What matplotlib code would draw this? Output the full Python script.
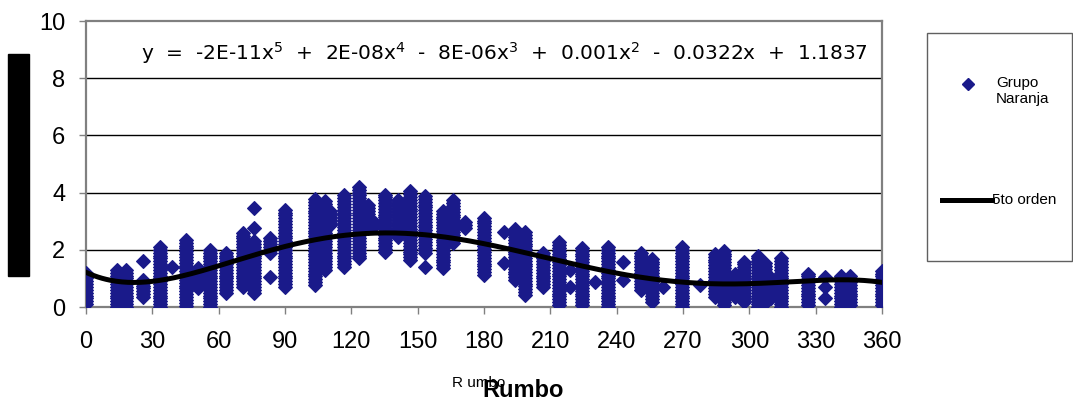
import numpy as np
import matplotlib
matplotlib.use("Agg")
import matplotlib.pyplot as plt
from matplotlib.patches import Rectangle
from matplotlib.lines import Line2D

plt.rcParams["font.family"] = ["Liberation Sans", "DejaVu Sans"]
plt.rcParams["mathtext.fontset"] = "dejavusans"

# Observed speed ranges per heading: (rumbo, lowest, highest), readings every 0.1
col_rumbo = [0, 14, 18, 26, 33.5, 45, 50.5, 56, 63.5, 71, 76, 83, 90, 103.5, 108,
             110.5, 116.5, 123.5, 127.5, 130.5, 135, 141, 146.5, 153.5, 161.5, 166,
             171.5, 180, 194, 198.5, 206.5, 214, 224.5, 236, 251, 256, 269.5, 284.5,
             288.5, 293.5, 297.5, 304, 307, 310, 314.5, 326.5, 341.5, 345.5, 360]
col_low = [0.1, 0.0, 0.0, 0.35, 0.0, 0.05, 0.65, 0.0, 0.5, 0.7, 0.5, 1.9, 0.7, 0.77, 1.3,
           2.85, 1.4, 1.7, 2.75, 2.85, 1.93, 2.45, 1.64, 1.88, 1.36, 2.23,
           2.76, 1.12, 0.94, 0.42, 0.7, 0.07, 0.07, 0.0, 0.6, 0.19, 0.0, 0.36,
           0.07, 0.36, 0.19, 0.0, 0.13, 0.3, 0.0, 0.07, 0.0, 0.07, 0.07]
col_high = [1.25, 1.35, 1.35, 0.95, 2.15, 2.4, 1.4, 2.0, 1.95, 2.6, 2.3, 2.45, 3.45, 3.85, 3.7,
            3.35, 3.9, 4.2, 3.6, 3.0, 3.98, 3.8, 4.05, 3.9, 3.45, 3.74,
            3.0, 3.16, 2.8, 2.7, 1.93, 2.28, 2.1, 2.17, 1.93, 1.76, 2.15, 1.93,
            2.0, 1.2, 1.64, 1.87, 1.53, 1.06, 1.7, 1.18, 1.18, 1.12, 1.35]

# Isolated readings
iso_rumbo = [26, 39, 76, 76, 83, 153.5, 189, 189, 219, 219, 230, 243, 243, 261, 277.5, 334, 334, 334]
iso_speed = [1.6, 1.4, 2.75, 3.47, 1.06, 1.4, 2.63, 1.53, 1.3, 0.7, 0.88, 1.58, 0.94, 0.7, 0.77, 1.06, 0.7, 0.3]

# Fifth-order trend values along the heading
trend_rumbo = [0, 13, 27, 33.5, 45, 57, 70, 83, 88, 101, 115, 128, 142, 151, 162, 169, 176,
               189.5, 203, 216.7, 232.5, 248, 264, 273, 291, 309, 323, 345.6, 359]
trend_speed = [1.18, 0.94, 0.88, 0.97, 1.12, 1.35, 1.64, 1.95, 2.05, 2.34, 2.52, 2.58, 2.58,
               2.52, 2.46, 2.4, 2.25, 2.05, 1.82, 1.58, 1.33, 1.06, 0.88, 0.85, 0.81, 0.81,
               0.94, 0.97, 0.85]

x_ticks = list(range(0, 361, 30))
y_ticks = [0, 2, 4, 6, 8, 10]
equation = (r"y  =  -2E-11x$^5$  +  2E-08x$^4$  -  8E-06x$^3$  +  0.001x$^2$  -  0.0322x  +  1.1837")

# expand ranges into individual readings
xs, ys = [], []
for r, lo, hi in zip(col_rumbo, col_low, col_high):
    v = np.arange(lo, hi + 1e-9, 0.1)
    xs.extend([r] * len(v))
    ys.extend(v)
xs.extend(iso_rumbo)
ys.extend(iso_speed)

W, H = 1073, 401
fig = plt.figure(figsize=(W / 100, H / 100), dpi=100)
ax = fig.add_axes([86 / W, 1 - 307 / H, (882 - 86) / W, (307 - 21) / H])

navy = "#1a1a8a"
ax.plot(xs, ys, linestyle="none", marker="D", ms=7.5, color=navy, mec=navy, mew=0.8, zorder=3)

coef = np.polyfit(trend_rumbo, trend_speed, 5)
xx = np.linspace(0, 360, 400)
ax.plot(xx, np.polyval(coef, xx), color="black", lw=3.6, zorder=4)

ax.set_xlim(0, 360)
ax.set_ylim(0, 10)
ax.set_xticks(x_ticks)
ax.set_yticks(y_ticks)
ax.tick_params(axis="both", labelsize=17, length=5, width=1, color="#808080", direction="out")
ax.tick_params(axis="x", pad=12)
ax.tick_params(axis="y", pad=10)
for yv in y_ticks[1:-1]:
    ax.axhline(yv, color="black", lw=1, zorder=1)
for s in ax.spines.values():
    s.set_color("#808080")
    s.set_linewidth(1.6)

fig.text(141 / W, 1 - 60 / H, equation, fontsize=14.5, family="DejaVu Sans",
         ha="left", va="baseline")

# legend box
fig.patches.append(Rectangle((927 / W, 1 - 261 / H), (1072 - 927) / W, (261 - 33) / H,
                             transform=fig.transFigure, fill=False, edgecolor="#606060", lw=1))
fig.lines.append(Line2D([968 / W], [1 - 84 / H], marker="D", ms=6.5, color=navy,
                        transform=fig.transFigure))
fig.text(996 / W, 1 - 76 / H, "Grupo\nNaranja", fontsize=11, ha="left", va="top", linespacing=1.15)
fig.lines.append(Line2D([942 / W, 992 / W], [1 - 200 / H, 1 - 200 / H], color="black", lw=3.6,
                        transform=fig.transFigure))
fig.text(992 / W, 1 - 200 / H, "5to orden", fontsize=11, ha="left", va="center")

# y-axis title block
fig.patches.append(Rectangle((8 / W, 1 - 276 / H), 21 / W, (276 - 54) / H,
                             transform=fig.transFigure, color="black"))

# x-axis titles
fig.text(452 / W, 1 - 387 / H, "R umbo", fontsize=11, ha="left", va="baseline")
fig.text(482 / W, 1 - 397 / H, "Rumbo", fontsize=17, weight="bold", ha="left", va="baseline")

fig.savefig("out.png", dpi=100)
